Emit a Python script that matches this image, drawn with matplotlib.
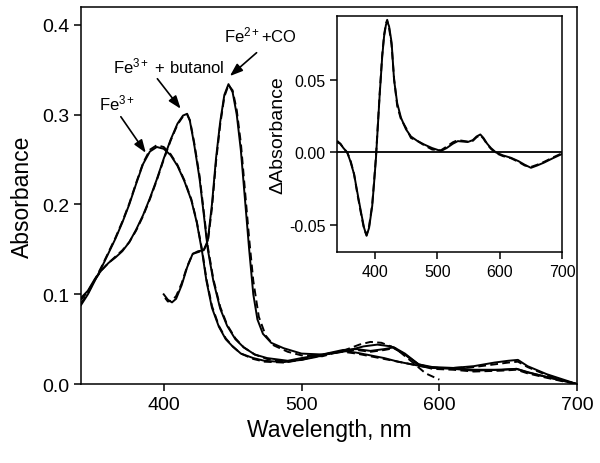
"""Espectros UV-vis de la hemoproteína (Fe3+, Fe3+ + butanol, Fe2+ + CO) con inset de diferencia."""

import matplotlib

matplotlib.use("Agg", force=True)
import matplotlib.pyplot as plt

plt.rcParams["font.family"] = ["Liberation Sans", "DejaVu Sans"]
plt.rcParams["mathtext.fontset"] = "custom"
plt.rcParams["mathtext.rm"] = "Liberation Sans"
plt.rcParams["mathtext.it"] = "Liberation Sans:italic"
plt.rcParams["mathtext.bf"] = "Liberation Sans:bold"

# --- datos ---------------------------------------------------------------------
FE3_WL = [340, 345, 350, 355, 360, 365, 370, 375, 380, 385, 390, 395, 400, 405,
          410, 415, 420, 424, 428, 431, 435, 440, 445, 450, 456, 465, 473, 487,
          500, 510, 520, 530, 540, 550, 560, 570, 580, 590, 600, 610, 625, 640,
          650, 657, 664, 678, 690, 700]
FE3_ABS = [0.088, 0.100, 0.115, 0.130, 0.146, 0.162, 0.180, 0.200, 0.223, 0.245,
           0.259, 0.264, 0.262, 0.255, 0.243, 0.226, 0.205, 0.180, 0.146, 0.115,
           0.085, 0.064, 0.050, 0.042, 0.034, 0.029, 0.026, 0.0245, 0.027, 0.030,
           0.034, 0.037, 0.035, 0.032, 0.029, 0.025, 0.022, 0.019, 0.018, 0.018,
           0.020, 0.024, 0.026, 0.027, 0.020, 0.011, 0.005, 0.0]
FE3_ABS_DASH = [0.090, 0.101, 0.116, 0.131, 0.147, 0.163, 0.181, 0.201, 0.224, 0.246,
                0.261, 0.266, 0.264, 0.256, 0.244, 0.227, 0.206, 0.181, 0.148, 0.117,
                0.087, 0.065, 0.051, 0.042, 0.034, 0.028, 0.025, 0.024, 0.027, 0.031,
                0.034, 0.036, 0.034, 0.031, 0.028, 0.025, 0.022, 0.019, 0.018, 0.018,
                0.019, 0.022, 0.024, 0.025, 0.019, 0.010, 0.004, 0.0]

BUT_WL = [340, 345, 350, 355, 360, 365, 370, 375, 380, 385, 390, 395, 400, 405,
          410, 414, 417, 419, 422, 426, 429, 432, 436, 441, 446, 452, 458, 466,
          475, 490, 500, 515, 530, 540, 550, 560, 567, 575, 585, 595, 610, 625,
          645, 656, 664, 678, 690, 700]
BUT_ABS = [0.096, 0.104, 0.117, 0.127, 0.135, 0.141, 0.148, 0.158, 0.172, 0.188,
           0.207, 0.228, 0.251, 0.272, 0.290, 0.299, 0.301, 0.293, 0.268, 0.229,
           0.190, 0.150, 0.115, 0.084, 0.065, 0.050, 0.041, 0.033, 0.029, 0.026,
           0.029, 0.033, 0.038, 0.039, 0.037, 0.039, 0.041, 0.034, 0.022, 0.018,
           0.017, 0.015, 0.016, 0.017, 0.013, 0.008, 0.004, 0.0]
BUT_ABS_DASH = [0.094, 0.103, 0.116, 0.127, 0.135, 0.142, 0.149, 0.158, 0.171, 0.187,
                0.206, 0.227, 0.250, 0.271, 0.289, 0.298, 0.300, 0.294, 0.270, 0.232,
                0.193, 0.153, 0.117, 0.086, 0.066, 0.051, 0.041, 0.033, 0.028, 0.025,
                0.028, 0.032, 0.037, 0.038, 0.036, 0.038, 0.040, 0.033, 0.021, 0.017,
                0.016, 0.014, 0.015, 0.016, 0.012, 0.007, 0.003, 0.0]

CO_WL = [400, 403, 406, 409, 413, 417, 421, 425, 429, 432, 435, 438, 441, 444,
         447, 450, 453, 456, 459, 462, 465, 468, 472, 478, 487, 500, 515, 530,
         545, 555, 565, 575, 585, 595, 610, 625, 645, 656, 665, 680, 700]
CO_ABS = [0.100, 0.094, 0.091, 0.095, 0.110, 0.130, 0.145, 0.148, 0.149, 0.160,
          0.200, 0.252, 0.292, 0.322, 0.334, 0.325, 0.300, 0.260, 0.205, 0.150,
          0.100, 0.072, 0.056, 0.046, 0.040, 0.034, 0.033, 0.036, 0.042, 0.044,
          0.042, 0.033, 0.022, 0.019, 0.018, 0.016, 0.016, 0.017, 0.013, 0.007, 0.0]

CO_WL_DASH = [401, 403, 406, 409, 413, 417, 421, 425, 429, 432, 435, 438, 441,
              444, 447, 450, 453, 456, 459, 462, 465, 469, 474, 480, 490, 500,
              515, 530, 542, 550, 558, 568, 580, 590, 600]
CO_ABS_DASH = [0.096, 0.092, 0.093, 0.098, 0.112, 0.131, 0.145, 0.147, 0.149, 0.158,
               0.196, 0.248, 0.289, 0.320, 0.333, 0.327, 0.305, 0.268, 0.215, 0.162,
               0.115, 0.075, 0.054, 0.043, 0.036, 0.032, 0.031, 0.037, 0.044, 0.047,
               0.046, 0.040, 0.025, 0.012, 0.005]

DIFF_WL = [340, 345, 350, 356, 361, 367, 372, 378, 383, 387, 391, 396, 399, 402,
           405, 408, 412, 415, 418, 420, 423, 427, 431, 436, 442, 450, 458, 468,
           479, 492, 506, 515, 525, 533, 541, 549, 557, 563, 569, 574, 580, 586,
           594, 605, 618, 630, 640, 650, 660, 671, 685, 700]
DIFF_ABS = [0.007, 0.006, 0.003, 0.0, -0.006, -0.015, -0.027, -0.041, -0.052,
            -0.0575, -0.052, -0.037, -0.021, -0.004, 0.018, 0.040, 0.066, 0.080,
            0.088, 0.0905, 0.087, 0.076, 0.050, 0.034, 0.024, 0.016, 0.011, 0.008,
            0.0055, 0.003, 0.001, 0.003, 0.006, 0.0078, 0.0075, 0.0072, 0.0085,
            0.011, 0.0124, 0.010, 0.006, 0.003, 0.0, -0.002, -0.0037, -0.006,
            -0.0085, -0.0106, -0.009, -0.007, -0.004, -0.001]
DIFF_ABS_DASH = [0.008, 0.006, 0.003, 0.0, -0.005, -0.015, -0.028, -0.042, -0.053,
                 -0.0570, -0.051, -0.036, -0.020, -0.003, 0.019, 0.041, 0.067, 0.081,
                 0.089, 0.0915, 0.086, 0.074, 0.051, 0.032, 0.023, 0.017, 0.010,
                 0.008, 0.005, 0.002, 0.0015, 0.004, 0.007, 0.0085, 0.008, 0.0075,
                 0.008, 0.0105, 0.012, 0.0095, 0.0055, 0.0025, -0.0005, -0.0025,
                 -0.004, -0.0065, -0.009, -0.0100, -0.0085, -0.0065, -0.0035, -0.0005]

MAIN_XTICKS = [400, 500, 600, 700]
MAIN_YTICKS = [0.0, 0.1, 0.2, 0.3, 0.4]
INSET_XTICKS = [400, 500, 600, 700]
INSET_YTICKS = [-0.05, 0.0, 0.05]

# etiquetas: (texto, posición del texto, inicio de flecha, punta de flecha)
LABELS = [
    (r"Fe$^{3+}$", (366.5, 0.314), (368.9, 0.2977), (387.0, 0.2575)),
    (r"Fe$^{3+}$ + butanol", (404.0, 0.355), (395.4, 0.340), (412.3, 0.3066)),
    (r"Fe$^{2+}$+CO", (470.0, 0.389), (467.4, 0.369), (448.0, 0.343)),
]
LABEL_SIZES = [12, 12, 12]

DASH = (0, (4.0, 2.2))
LW = 1.4


def style_axes(ax, tick_size, tick_len):
    for spine in ax.spines.values():
        spine.set_linewidth(1.1)
    ax.tick_params(direction="out", length=tick_len, width=1.1,
                   labelsize=tick_size, top=False, right=False)


fig = plt.figure(figsize=(6.0, 4.64), dpi=100)
ax = fig.add_axes([0.135, 0.170, 0.827, 0.813])

ax.plot(FE3_WL, FE3_ABS, color="black", lw=LW)
ax.plot(FE3_WL, FE3_ABS_DASH, color="black", lw=LW, ls=DASH)
ax.plot(BUT_WL, BUT_ABS, color="black", lw=LW)
ax.plot(BUT_WL, BUT_ABS_DASH, color="black", lw=LW, ls=DASH)
ax.plot(CO_WL, CO_ABS, color="black", lw=LW)
ax.plot(CO_WL_DASH, CO_ABS_DASH, color="black", lw=LW, ls=DASH)

ax.set_xlim(340, 700)
ax.set_ylim(0.0, 0.42)
ax.set_xticks(MAIN_XTICKS)
ax.set_yticks(MAIN_YTICKS)
ax.set_yticklabels([f"{v:.1f}" for v in MAIN_YTICKS])
ax.set_xlabel("Wavelength, nm", fontsize=16.5, labelpad=4)
ax.set_ylabel("Absorbance", fontsize=16.5, labelpad=6)
style_axes(ax, 14, 5)

arrow = dict(arrowstyle="-|>,head_length=0.55,head_width=0.2", color="black",
             lw=1.2, mutation_scale=14, shrinkA=0, shrinkB=0)
for (text, text_xy, start, tip), size in zip(LABELS, LABEL_SIZES):
    ax.text(*text_xy, text, fontsize=size, ha="center", va="center")
    ax.annotate("", xy=tip, xytext=start, arrowprops=arrow)

# inset: espectro de diferencia
ins = fig.add_axes([0.562, 0.455, 0.375, 0.508])
ins.plot(DIFF_WL, DIFF_ABS, color="black", lw=LW)
ins.plot(DIFF_WL, DIFF_ABS_DASH, color="black", lw=LW, ls=DASH)
ins.axhline(0.0, color="black", lw=1.3)
ins.set_xlim(340, 700)
ins.set_ylim(-0.0686, 0.094)
ins.set_xticks(INSET_XTICKS)
ins.set_yticks(INSET_YTICKS)
ins.set_yticklabels([f"{v:.2f}" for v in INSET_YTICKS])
ins.set_ylabel(r"ΔAbsorbance", fontsize=14, labelpad=2)
style_axes(ins, 11.5, 5)

fig.savefig("out.png", dpi=100)
